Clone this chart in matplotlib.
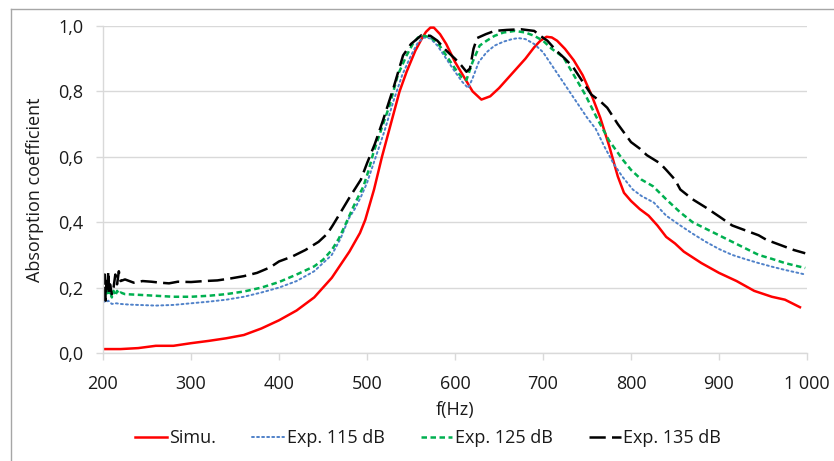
import matplotlib.pyplot as plt
from matplotlib.ticker import FuncFormatter, MultipleLocator
from matplotlib.lines import Line2D

plt.rcParams['font.family'] = ['Open Sans', 'DejaVu Sans']

# Simulation
f_simu = [200, 220, 240, 260, 280, 300, 320, 340, 360, 380, 400, 420, 440, 460, 480,
          492, 498, 508, 517, 527, 537, 545, 555, 562, 567, 572, 576, 583, 590, 600,
          610, 620, 630, 640, 650, 660, 670, 680, 690, 697, 704, 710, 716, 725, 735,
          745, 755, 765, 775, 785, 792, 800, 810, 820, 830, 840, 850, 860, 880, 900,
          920, 940, 960, 975, 992]
a_simu = [0.012, 0.012, 0.015, 0.022, 0.022, 0.03, 0.037, 0.045, 0.055, 0.075, 0.10,
          0.13, 0.17, 0.23, 0.31, 0.367, 0.407, 0.50, 0.60, 0.70, 0.80, 0.86, 0.925,
          0.96, 0.982, 0.995, 0.995, 0.975, 0.945, 0.89, 0.845, 0.80, 0.775, 0.785,
          0.81, 0.84, 0.87, 0.90, 0.935, 0.955, 0.967, 0.965, 0.955, 0.93, 0.895, 0.85,
          0.79, 0.72, 0.635, 0.54, 0.49, 0.465, 0.44, 0.42, 0.39, 0.355, 0.335, 0.31,
          0.275, 0.245, 0.22, 0.19, 0.172, 0.163, 0.14]

# Exp. 115 dB
f_115 = [200, 203, 206, 210, 215, 220, 230, 240, 260, 280, 300, 320, 340, 360, 380,
         400, 420, 440, 460, 470, 479, 486, 493, 500, 510, 520, 530, 540, 550, 558,
         565, 572, 580, 590, 600, 608, 615, 620, 627, 636, 645, 655, 665, 672, 680,
         690, 700, 710, 720, 730, 740, 750, 760, 770, 780, 790, 802, 812, 826, 840,
         856, 870, 885, 900, 915, 930, 945, 960, 975, 990, 998]
a_115 = [0.16, 0.155, 0.16, 0.15, 0.152, 0.15, 0.148, 0.147, 0.145, 0.147, 0.152,
         0.157, 0.163, 0.172, 0.185, 0.20, 0.22, 0.25, 0.30, 0.35, 0.41, 0.44, 0.477,
         0.52, 0.60, 0.68, 0.77, 0.85, 0.91, 0.95, 0.965, 0.962, 0.94, 0.90, 0.86,
         0.83, 0.81, 0.84, 0.89, 0.92, 0.94, 0.952, 0.96, 0.963, 0.96, 0.945, 0.92,
         0.88, 0.84, 0.80, 0.76, 0.72, 0.685, 0.63, 0.58, 0.54, 0.50, 0.48, 0.46,
         0.42, 0.39, 0.365, 0.34, 0.318, 0.30, 0.287, 0.275, 0.264, 0.254, 0.245, 0.24]

# Exp. 125 dB
f_125 = [200, 202, 204, 206, 208, 210, 212, 214, 216, 218, 220, 225, 240, 260, 280,
         300, 320, 340, 360, 380, 400, 420, 440, 450, 460, 468, 475, 485, 496, 502,
         507, 517, 526, 535, 545, 552, 558, 565, 572, 580, 590, 600, 607, 613, 620,
         628, 636, 645, 655, 668, 680, 690, 700, 710, 723, 735, 748, 761, 775, 791,
         800, 812, 825, 840, 856, 870, 885, 900, 915, 930, 945, 960, 975, 990, 998]
a_125 = [0.19, 0.17, 0.20, 0.175, 0.195, 0.17, 0.19, 0.175, 0.19, 0.18, 0.185, 0.18,
         0.178, 0.175, 0.172, 0.172, 0.175, 0.18, 0.188, 0.20, 0.217, 0.24, 0.265,
         0.285, 0.315, 0.35, 0.39, 0.45, 0.51, 0.56, 0.61, 0.69, 0.76, 0.85, 0.91,
         0.945, 0.965, 0.97, 0.965, 0.95, 0.91, 0.87, 0.845, 0.835, 0.89, 0.94, 0.955,
         0.97, 0.98, 0.985, 0.98, 0.97, 0.955, 0.93, 0.905, 0.85, 0.79, 0.72, 0.65,
         0.59, 0.56, 0.53, 0.51, 0.47, 0.43, 0.40, 0.38, 0.36, 0.34, 0.32, 0.30,
         0.288, 0.275, 0.265, 0.26]

# Exp. 135 dB
f_135 = [200, 201, 202, 203, 204, 205, 206, 207, 208, 210, 212, 214, 216, 218, 220,
         225, 235, 245, 255, 265, 275, 285, 300, 315, 330, 345, 360, 375, 390, 400,
         415, 430, 445, 455, 461, 470, 480, 493, 500, 509, 518, 530, 541, 550, 562,
         572, 580, 590, 600, 607, 613, 617, 621, 625, 635, 645, 659, 675, 690, 697,
         705, 715, 725, 734, 745, 755, 765, 773, 785, 800, 810, 818, 833, 840, 850,
         856, 870, 885, 901, 915, 930, 945, 954, 965, 975, 985, 998]
a_135 = [0.20, 0.17, 0.24, 0.16, 0.22, 0.19, 0.25, 0.18, 0.21, 0.18, 0.20, 0.24, 0.21,
         0.25, 0.22, 0.225, 0.215, 0.22, 0.218, 0.215, 0.213, 0.218, 0.217, 0.22,
         0.222, 0.228, 0.235, 0.245, 0.262, 0.28, 0.295, 0.315, 0.34, 0.365, 0.39,
         0.43, 0.475, 0.53, 0.58, 0.64, 0.71, 0.81, 0.91, 0.945, 0.972, 0.97, 0.955,
         0.925, 0.90, 0.88, 0.86, 0.87, 0.93, 0.963, 0.975, 0.985, 0.988, 0.99, 0.985,
         0.97, 0.955, 0.925, 0.90, 0.875, 0.83, 0.79, 0.77, 0.75, 0.70, 0.645, 0.625,
         0.605, 0.58, 0.56, 0.53, 0.50, 0.47, 0.445, 0.416, 0.39, 0.375, 0.36, 0.346,
         0.335, 0.325, 0.315, 0.305]

x_ticks = [200, 300, 400, 500, 600, 700, 800, 900, 1000]


def fmt_x(v, pos):
  v = int(round(v))
  return f'{v:,}'.replace(',', ' ')


def fmt_y(v, pos):
  return f'{v:.1f}'.replace('.', ',')


fig = plt.figure(figsize=(8.34, 4.61), dpi=100)
ax = fig.add_axes([103 / 834, 1 - 353 / 461, 704 / 834, 327 / 461])

ax.plot(f_simu, a_simu, color='#FF0000', lw=1.8, label='Simu.')
ax.plot(f_115, a_115, color='#4F81C9', lw=1.4, linestyle=(0, (1, 1.6)),
        dash_capstyle='round', label='Exp. 115 dB')
ax.plot(f_125, a_125, color='#00B050', lw=1.8, linestyle=(0, (2.2, 1.4)), label='Exp. 125 dB')
ax.plot(f_135, a_135, color='#000000', lw=1.8, linestyle=(0, (6.5, 2.5)), label='Exp. 135 dB')

ax.set_xlim(200, 1000)
ax.set_ylim(0, 1.0)
ax.set_xticks(x_ticks)
ax.yaxis.set_major_locator(MultipleLocator(0.2))
ax.xaxis.set_major_formatter(FuncFormatter(fmt_x))
ax.yaxis.set_major_formatter(FuncFormatter(fmt_y))

ax.grid(axis='y', color='#D9D9D9', lw=1.0)
ax.set_axisbelow(True)
for s in ['top', 'right']:
  ax.spines[s].set_visible(False)
for s in ['left', 'bottom']:
  ax.spines[s].set_color('#D9D9D9')
  ax.spines[s].set_linewidth(1.0)
ax.tick_params(axis='x', length=5, width=1, color='#D9D9D9', pad=11,
               labelsize=13, labelcolor='#1A1A1A')
ax.tick_params(axis='y', length=5, width=1, color='#D9D9D9', pad=9,
               labelsize=13, labelcolor='#1A1A1A')

ax.set_ylabel('Absorption coefficient', fontsize=13, color='#1A1A1A', labelpad=10)
fig.text(455 / 834, 1 - 410 / 461, 'f(Hz)', ha='center', va='center',
         fontsize=13, color='#1A1A1A')

ax.legend(loc='center', bbox_to_anchor=(428 / 834, 1 - 438 / 461),
          bbox_transform=fig.transFigure, ncol=4, frameon=False, fontsize=13,
          handlelength=1.75, handletextpad=0.15, columnspacing=2.0,
          labelcolor='#1A1A1A')

# outer frame of the chart area
fig.add_artist(Line2D([10.5 / 834, 10.5 / 834], [0, 1 - 9.5 / 461],
                      transform=fig.transFigure, color='#A6A6A6', lw=1))
fig.add_artist(Line2D([10.5 / 834, 1], [1 - 9.5 / 461, 1 - 9.5 / 461],
                      transform=fig.transFigure, color='#A6A6A6', lw=1))

fig.savefig('out.png', dpi=100)
